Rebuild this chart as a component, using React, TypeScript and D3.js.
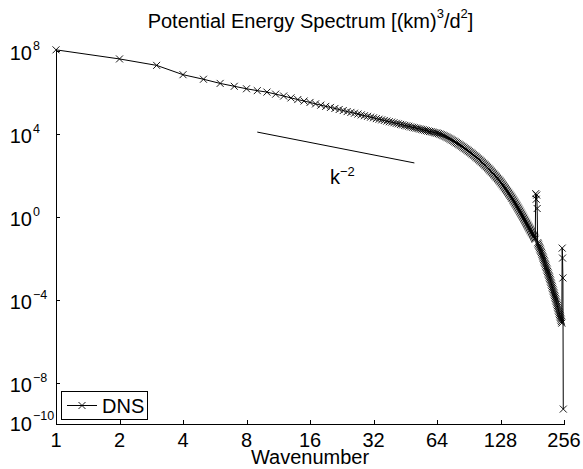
import React, { useEffect, useRef } from "react";
import * as d3 from "d3";

// wavenumber shells 1..254
const wavenumbers = d3.range(1, 255);

// log10 of the potential energy spectrum, one per shell
const spectrumLog10 = [
  8.06, 7.62, 7.31, 6.86, 6.64, 6.44, 6.3, 6.18, 6.09, 6.02,
  5.92, 5.83, 5.74, 5.66, 5.59, 5.52, 5.45, 5.39, 5.33, 5.28,
  5.23, 5.18, 5.13, 5.08, 5.04, 5.0, 4.96, 4.92, 4.88, 4.85,
  4.81, 4.78, 4.74, 4.71, 4.68, 4.65, 4.62, 4.59, 4.57, 4.54,
  4.51, 4.49, 4.46, 4.44, 4.41, 4.39, 4.37, 4.34, 4.32, 4.3,
  4.28, 4.26, 4.24, 4.22, 4.2, 4.18, 4.16, 4.14, 4.12, 4.11,
  4.09, 4.07, 4.05, 4.04, 4.018, 3.994, 3.968, 3.94, 3.911, 3.881,
  3.85, 3.818, 3.785, 3.751, 3.716, 3.681, 3.646, 3.611, 3.576, 3.541,
  3.506, 3.471, 3.436, 3.4, 3.364, 3.328, 3.292, 3.256, 3.22, 3.184,
  3.148, 3.112, 3.075, 3.038, 3.0, 2.962, 2.924, 2.886, 2.848, 2.81,
  2.772, 2.734, 2.696, 2.657, 2.618, 2.579, 2.54, 2.501, 2.462, 2.423,
  2.382, 2.341, 2.3, 2.259, 2.218, 2.177, 2.136, 2.095, 2.054, 2.013,
  1.972, 1.931, 1.89, 1.849, 1.808, 1.767, 1.726, 1.685, 1.639, 1.593,
  1.547, 1.501, 1.455, 1.409, 1.363, 1.317, 1.271, 1.225, 1.179, 1.133,
  1.087, 1.041, 0.995, 0.949, 0.903, 0.857, 0.811, 0.762, 0.713, 0.664,
  0.615, 0.566, 0.517, 0.468, 0.419, 0.37, 0.321, 0.272, 0.223, 0.174,
  0.125, 0.076, 0.027, -0.022, -0.071, -0.12, -0.169, -0.218, -0.267, -0.316,
  -0.36, -0.405, -0.45, -0.495, -0.54, -0.585, -0.63, -0.675, -0.72, -0.765,
  -0.81, -0.855, -0.9, -0.945, -0.99, -1.035, -1.08, 1.12, 0.85, 1.05,
  0.4, -1.25, -1.31, -1.37, -1.43, -1.49, -1.55, -1.61, -1.67, -1.73,
  -1.795, -1.86, -1.925, -1.99, -2.055, -2.12, -2.185, -2.25, -2.315, -2.38,
  -2.445, -2.51, -2.575, -2.64, -2.705, -2.77, -2.835, -2.9, -2.965, -3.03,
  -3.1, -3.17, -3.24, -3.31, -3.38, -3.45, -3.52, -3.59, -3.66, -3.73,
  -3.8, -3.87, -3.94, -4.01, -4.08, -4.15, -4.22, -4.29, -4.36, -4.43,
  -4.5, -4.57, -4.64, -4.71, -4.78, -4.85, -4.92, -4.99, -5.06, -5.13,
  -1.51, -1.99, -2.95, -9.28,
];

// k^-2 reference slope
const refK = [9, 50];
const refE = [1.23e4, 1.23e4 * Math.pow(50 / 9, -2)];

const xTicks = [1, 2, 4, 8, 16, 32, 64, 128, 256];
const yTickExps = [8, 4, 0, -4, -8, -10];

const FONT = "'Liberation Sans', Arial, Helvetica, sans-serif";

const App = () => {
  const ref = useRef<SVGSVGElement>(null);

  useEffect(() => {
    const svg = d3.select(ref.current);
    svg.selectAll("*").remove();

    const width = 583;
    const height = 469;
    const left = 56;
    const right = 564;
    const top = 49;
    const bottom = 424;

    const data = wavenumbers.map((k, i) => ({ k, e: Math.pow(10, spectrumLog10[i]) }));

    const x = d3.scaleLog().base(2).domain([1, 256]).range([left, right]);
    const y = d3.scaleLog().domain([1e-10, Math.pow(10, 8.1)]).range([bottom, top]);

    svg.attr("width", width).attr("height", height);
    svg.append("rect").attr("width", width).attr("height", height).attr("fill", "white");

    const g = svg.append("g").attr("font-family", FONT).attr("fill", "black");

    // axes lines
    g.append("line")
      .attr("x1", left + 0.5).attr("x2", left + 0.5).attr("y1", top).attr("y2", bottom)
      .attr("stroke", "black").attr("stroke-width", 1);
    g.append("line")
      .attr("x1", left).attr("x2", right + 1).attr("y1", bottom + 0.5).attr("y2", bottom + 0.5)
      .attr("stroke", "black").attr("stroke-width", 1);

    // x ticks (inward) + labels
    xTicks.forEach(t => {
      const xp = Math.round(x(t)) + 0.5;
      g.append("line")
        .attr("x1", xp).attr("x2", xp).attr("y1", bottom).attr("y2", bottom - 4)
        .attr("stroke", "black");
      g.append("text")
        .attr("x", x(t)).attr("y", bottom + 23)
        .attr("text-anchor", "middle").attr("font-size", 20)
        .text(t);
    });

    // y ticks (inward) + labels 10^n
    yTickExps.forEach(n => {
      const yp = Math.round(y(Math.pow(10, n))) + 0.5;
      g.append("line")
        .attr("x1", left).attr("x2", left + 4).attr("y1", yp).attr("y2", yp)
        .attr("stroke", "black");
      g.append("text")
        .attr("x", 32).attr("y", yp + (n === -10 ? 6 : 8))
        .attr("text-anchor", "end").attr("font-size", 20)
        .text("10");
      g.append("text")
        .attr("x", 33).attr("y", yp - (n === -10 ? 5 : 1.5))
        .attr("font-size", 12.5)
        .text(n < 0 ? `\u2212${-n}` : `${n}`);
    });

    // reference line k^-2
    const refLine = d3.line<number>().x((_, i) => x(refK[i])).y(d => y(d));
    g.append("path")
      .attr("d", refLine(refE))
      .attr("fill", "none").attr("stroke", "black").attr("stroke-width", 1);
    const lbl = g.append("text")
      .attr("x", x(19.9)).attr("y", y(Math.pow(10, 1.58)))
      .attr("font-size", 20);
    lbl.append("tspan").text("k");
    lbl.append("tspan").attr("dy", -8).attr("font-size", 13).text("\u22122");

    // spectrum line + x markers
    const line = d3.line<{ k: number; e: number }>().x(d => x(d.k)).y(d => y(d.e));
    g.append("path")
      .attr("d", line(data))
      .attr("fill", "none").attr("stroke", "black").attr("stroke-width", 1);

    const m = 3.5;
    const cross = (cx: number, cy: number) =>
      `M${cx - m},${cy - m}L${cx + m},${cy + m}M${cx - m},${cy + m}L${cx + m},${cy - m}`;
    g.append("path")
      .attr("d", data.map(d => cross(x(d.k), y(d.e))).join(""))
      .attr("fill", "none").attr("stroke", "black").attr("stroke-width", 0.9);

    // title
    const title = g.append("text")
      .attr("x", 310.5).attr("y", 28)
      .attr("text-anchor", "middle").attr("font-size", 20);
    title.append("tspan").text("Potential Energy Spectrum [(km)");
    title.append("tspan").attr("dy", -10).attr("font-size", 13).text("3");
    title.append("tspan").attr("dy", 10).text("/d");
    title.append("tspan").attr("dy", -10).attr("font-size", 13).text("2");
    title.append("tspan").attr("dy", 10).text("]");

    // x label
    g.append("text")
      .attr("x", 310).attr("y", 464)
      .attr("text-anchor", "middle").attr("font-size", 20)
      .text("Wavenumber");

    // legend
    const lg = g.append("g");
    lg.append("rect")
      .attr("x", 61.5).attr("y", 391.5).attr("width", 86).attr("height", 28)
      .attr("fill", "white").attr("stroke", "black").attr("stroke-width", 1);
    lg.append("line")
      .attr("x1", 67).attr("x2", 97).attr("y1", 405.5).attr("y2", 405.5)
      .attr("stroke", "black");
    lg.append("path")
      .attr("d", cross(82, 405.5))
      .attr("fill", "none").attr("stroke", "black").attr("stroke-width", 0.9);
    lg.append("text")
      .attr("x", 102).attr("y", 413)
      .attr("font-size", 20)
      .text("DNS");
  }, []);

  return (
    <div style={{ position: "absolute", left: 0, top: 0 }}>
      <svg ref={ref}></svg>
    </div>
  );
};

export default App;
